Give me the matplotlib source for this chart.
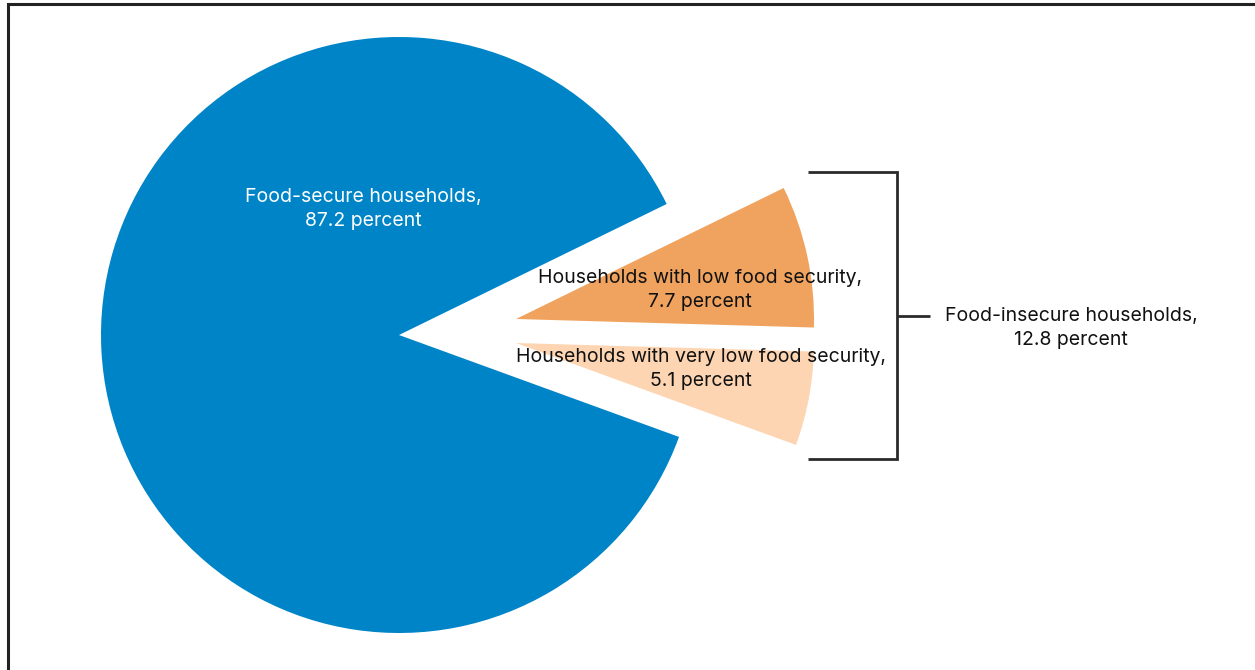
import matplotlib
matplotlib.use("Agg")
import matplotlib.pyplot as plt
from matplotlib.patches import Wedge
import numpy as np

plt.rcParams['font.family'] = ['Inter', 'DejaVu Sans']

# Data
categories = ["Households with very low food security", "Households with low food security", "Food-secure households"]
shares = [5.1, 7.7, 87.2]
labels = ["Households with very low food security,\n5.1 percent",
          "Households with low food security,\n7.7 percent",
          "Food-secure households,\n87.2 percent"]
group_label = "Food-insecure households,\n12.8 percent"

colors = ["#FDD5B2", "#F0A35E", "#0084C8"]
text_colors = ["#111111", "#111111", "white"]

W, H = 1255, 670
fig = plt.figure(figsize=(W / 100, H / 100), dpi=100)
ax = fig.add_axes([0, 0, 1, 1])
ax.set_xlim(0, W)
ax.set_ylim(0, H)
ax.axis("off")

def Y(yp):
    return H - yp

center = (399, Y(335))
radius = 298
start_angle = -20.0
# per-wedge offsets (explode) in pixels
offsets = [(117, -8), (117, 16), (0, 0)]
label_pos = [(701, Y(369)), (700, Y(290)), (363, Y(209))]

angles = np.cumsum([0] + [s / 100 * 360 for s in shares]) + start_angle
for i, s in enumerate(shares):
    cx = center[0] + offsets[i][0]
    cy = center[1] + offsets[i][1]
    w = Wedge((cx, cy), radius, angles[i], angles[i + 1], facecolor=colors[i],
              edgecolor="none", linewidth=0)
    ax.add_patch(w)
    ax.text(label_pos[i][0], label_pos[i][1], labels[i], ha="center", va="center",
            fontsize=14, color=text_colors[i], linespacing=1.38)

# Bracket for food-insecure group
lc = "#2a2a2a"
lw = 2.0
bx0, bx1, by0, by1 = 808, 897, Y(172), Y(459)
ax.plot([bx0, bx1, bx1, bx0], [by0, by0, by1, by1], color=lc, lw=lw,
        solid_joinstyle="miter", solid_capstyle="butt")
ax.plot([bx1, 930], [Y(316), Y(316)], color=lc, lw=lw, solid_capstyle="butt")
ax.text(1071, Y(328), group_label, ha="center", va="center", fontsize=14,
        color="#111111", linespacing=1.38)

# Frame (top and left lines)
ax.plot([8, 8, W], [0, Y(4), Y(4)], color="#222222", lw=2.2,
        solid_joinstyle="miter", solid_capstyle="butt")

fig.savefig("out.png", dpi=100)
